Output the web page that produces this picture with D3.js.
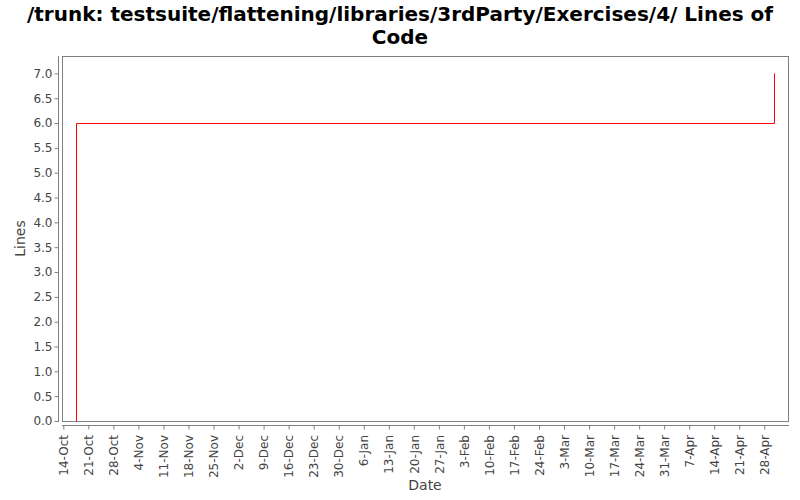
<!DOCTYPE html>
<html>
<head>
<meta charset="utf-8">
<script src="https://cdn.jsdelivr.net/npm/d3@7"></script>
<style>
  body { margin: 0; background: #fff; }
  svg { display: block; font-family: "DejaVu Sans", sans-serif; }
</style>
</head>
<body>
<svg id="chart" width="800" height="500"></svg>
<script>
// ---- data ----
const titleLines = ["/trunk: testsuite/flattening/libraries/3rdParty/Exercises/4/ Lines of", "Code"];
const xLabel = "Date";
const yLabel = "Lines";
const dates = ["2013-10-17T13:00", "2013-10-17T13:00", "2014-04-30T17:00"];
const lines = [0, 6, 7];
const xTickStart = "2013-10-14";
const xTickEnd = "2014-04-28";
const yTicks = [0, 0.5, 1, 1.5, 2, 2.5, 3, 3.5, 4, 4.5, 5, 5.5, 6, 6.5, 7];
const xDomain = ["2013-10-13T15:17", "2014-05-04T15:00"];
const yMax = 7.35;

// ---- layout ----
const svg = d3.select("#chart");
const plot = { left: 62, right: 788, top: 56, bottom: 421 };
const parse = d3.utcParse("%Y-%m-%dT%H:%M");
const parseDay = d3.utcParse("%Y-%m-%d");

const x = d3.scaleUtc().domain(xDomain.map(parse)).range([plot.left, plot.right]);
const y = d3.scaleLinear().domain([0, yMax]).range([plot.bottom, plot.top]);

// title
svg.append("g").selectAll("text").data(titleLines).join("text")
  .attr("x", 400).attr("y", (d, i) => 21 + i * 23)
  .attr("text-anchor", "middle")
  .attr("font-size", 20).attr("font-weight", "bold").attr("fill", "#000")
  .text(d => d);

// plot frame
svg.append("rect")
  .attr("x", plot.left + 0.5).attr("y", plot.top + 0.5)
  .attr("width", plot.right - plot.left).attr("height", plot.bottom - plot.top)
  .attr("fill", "#fff").attr("stroke", "#808080").attr("stroke-width", 1);

// y axis
const yAxis = d3.axisLeft(y).tickValues(yTicks).tickFormat(d3.format(".1f")).tickSize(4).tickPadding(2);
const gy = svg.append("g").attr("transform", `translate(${plot.left - 3.5},0)`).call(yAxis);
gy.select(".domain").attr("stroke", "#808080").attr("d", `M0,${plot.top}V${plot.bottom + 1}`);
gy.selectAll(".tick line").attr("stroke", "#808080");
gy.selectAll(".tick text").attr("fill", "#444").attr("font-size", 12).attr("font-family", "DejaVu Sans");

// x axis
const xTicks = d3.utcMonday.range(parseDay(xTickStart), d3.utcDay.offset(parseDay(xTickEnd), 1));
const xAxis = d3.axisBottom(x).tickValues(xTicks).tickFormat(d3.utcFormat("%-d-%b")).tickSize(4).tickPadding(3);
const gx = svg.append("g").attr("transform", `translate(0,${plot.bottom + 4.5})`).call(xAxis);
gx.select(".domain").attr("stroke", "#808080").attr("d", `M${plot.left},0H${plot.right + 1}`);
gx.selectAll(".tick line").attr("stroke", "#808080");
gx.selectAll(".tick text")
  .attr("fill", "#444").attr("font-size", 12).attr("font-family", "DejaVu Sans")
  .attr("text-anchor", "end")
  .attr("transform", "rotate(-90)")
  .attr("x", -9.5).attr("y", 0).attr("dy", "0.35em");

// axis labels
svg.append("text").attr("x", (plot.left + plot.right) / 2).attr("y", 490)
  .attr("text-anchor", "middle").attr("font-size", 14).attr("fill", "#444").text(xLabel);
svg.append("text").attr("transform", `translate(25,${(plot.top + plot.bottom) / 2}) rotate(-90)`)
  .attr("text-anchor", "middle").attr("font-size", 14).attr("fill", "#444").text(yLabel);

// series
const data = dates.map((d, i) => ({ t: parse(d), v: lines[i] }));
const line = d3.line().x(d => Math.round(x(d.t)) + 0.5).y(d => Math.round(y(d.v)) + 0.5).curve(d3.curveStepAfter);
svg.append("path").datum(data).attr("d", line)
  .attr("fill", "none").attr("stroke", "#ff0000").attr("stroke-width", 1);
</script>
</body>
</html>
